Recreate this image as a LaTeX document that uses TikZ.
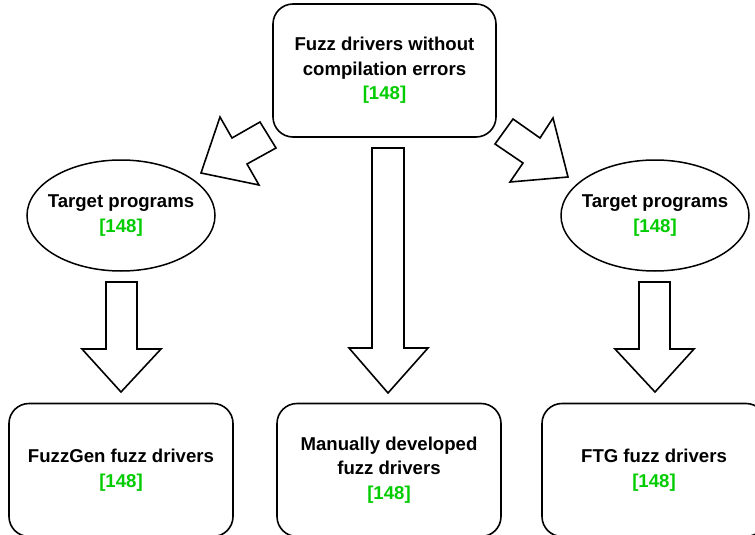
\documentclass[tikz,border=0pt]{standalone}
\usepackage{fontspec}
\setmainfont{Liberation Sans}
\usetikzlibrary{shapes.geometric}
\definecolor{numgreen}{RGB}{0,204,0}
\tikzset{
  lbl/.style={align=center, font=\fontsize{18.6}{24.5}\selectfont\bfseries, text=black},
  rbox/.style={lbl, draw, line width=1.6pt, rounded corners=20pt, minimum width=223pt, minimum height=133pt, inner sep=0pt},
  oval/.style={lbl, draw, ellipse, line width=1.5pt, minimum width=188pt, minimum height=111pt, inner xsep=-12pt, inner ysep=0pt},
  blockarrow/.style={draw, line width=1.6pt, fill=white, line join=miter}
}
\newcommand{\num}{\textcolor{numgreen}{[148]}}
\begin{document}
\begin{tikzpicture}[x=1pt,y=-1pt]
\useasboundingbox (0,0) rectangle (755,535);
\clip (0,0) rectangle (755,535);
\fill[white] (0,0) rectangle (755,535);

\node[rbox] (top) at (384.5,70.5) {Fuzz drivers without\\compilation errors\\\num};
\node[oval] (tl) at (121,215.5) {Target programs\\\num};
\node[oval] (tr) at (655,215.5) {Target programs\\\num};
\node[rbox, minimum width=224pt] (bl) at (121,470) {FuzzGen fuzz drivers\\\num};
\node[rbox, minimum width=224pt] (bm) at (389,470) {Manually developed\\fuzz drivers\\\num};
\node[rbox, minimum width=224pt] (br) at (654,470) {FTG fuzz drivers\\\num};

% diagonal block arrows
\draw[blockarrow] (260,122) -- (276,148) -- (247,164) -- (259,185) -- (201,173) -- (220,117) -- (232,138) -- cycle;
\draw[blockarrow] (513,119) -- (495,144) -- (523,163) -- (510,182) -- (568,177) -- (553,118) -- (540,138) -- cycle;

% vertical block arrows
\draw[blockarrow] (106,282) -- (137,282) -- (137,349) -- (161,349) -- (121,392) -- (82,349) -- (106,349) -- cycle;
\draw[blockarrow] (639,282) -- (670,282) -- (670,349) -- (694,349) -- (655,392) -- (615,349) -- (639,349) -- cycle;
\draw[blockarrow] (372,148) -- (404,148) -- (404,348) -- (428,348) -- (388,393) -- (349,348) -- (372,348) -- cycle;
\end{tikzpicture}
\end{document}
